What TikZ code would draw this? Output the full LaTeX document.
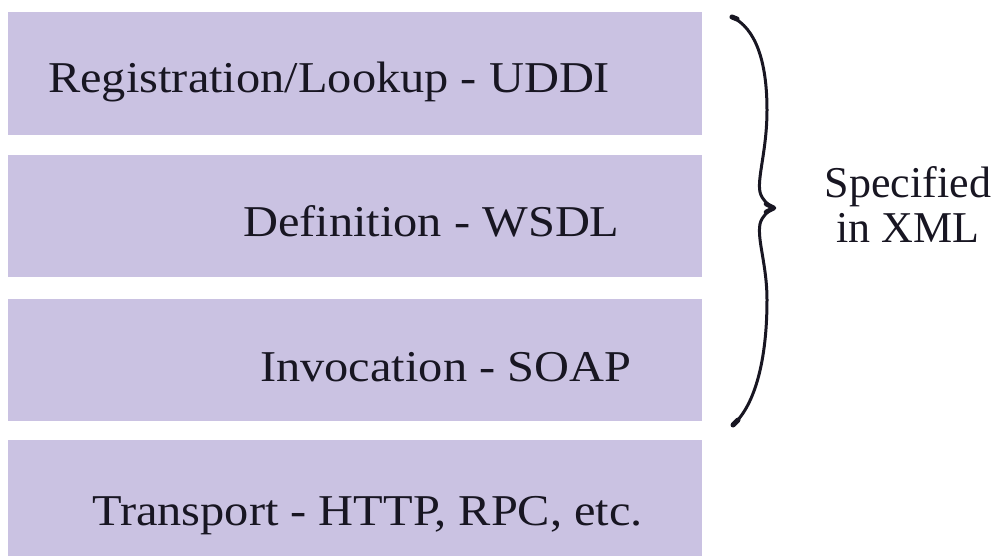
\documentclass[tikz,border=0pt]{standalone}
\usepackage{fontspec}
\setmainfont{Liberation Serif}
\newfontfamily\layerfont{Liberation Serif}[FakeStretch=1.1]
\usepackage{tikz}
\usetikzlibrary{positioning}
\definecolor{lilac}{RGB}{202,194,226}
\definecolor{ink}{RGB}{24,22,34}

\begin{document}
\begin{tikzpicture}[x=1pt,y=-1pt,
 layer/.style={fill=lilac,draw=none,inner sep=0pt,minimum width=694pt},
 layertext/.style={anchor=base west,inner sep=0pt,text=ink,font=\layerfont\fontsize{44}{46}\selectfont},
 spec/.style={anchor=base,align=center,inner sep=0pt,text=ink,font=\fontsize{44}{45}\selectfont},
 bracepen/.style={draw=ink,line width=3pt,line cap=round,line join=round}]
\path[use as bounding box] (0,0) rectangle (1002,556);
\node[layer,minimum height=123pt] (uddi) at (355,73.5) {};
\node[layer,minimum height=122pt] (wsdl) at (355,216) {};
\node[layer,minimum height=122pt] (soap) at (355,360) {};
\node[layer,minimum height=116pt] (http) at (355,498) {};
\node[layertext] (uddiText) at (48,93) {Registration/Lookup - UDDI};
\node[layertext] (wsdlText) at (243,237) {Definition - WSDL};
\node[layertext] (soapText) at (260,381) {Invocation - SOAP};
\node[layertext] (httpText) at (92,525) {Transport - HTTP, RPC, etc.};
% brace over the three XML layers
\coordinate (braceTop) at (732,17);
\coordinate (braceTip) at (774,208);
\coordinate (braceBot) at (733,425);
\draw[bracepen] (braceTop) .. controls (755,28) and (767,60) .. (767,110)
 .. controls (767,150) and (757,178) .. (760,192)
 .. controls (762,200) and (768,205) .. (braceTip)
 .. controls (768,211) and (762,216) .. (760,224)
 .. controls (757,240) and (767,265) .. (767,300)
 .. controls (767,360) and (755,405) .. (braceBot);
% heavier pen at the ends and the tip
\draw[bracepen,line width=5pt] (braceTop) -- (737,19);
\draw[bracepen,line width=5pt] (braceBot) -- (738,420);
\draw[bracepen,line width=4.5pt] (766,204) -- (braceTip) -- (766,212);
\node[spec] (xml) at (908,243) {Specified\\in XML};
\end{tikzpicture}
\end{document}
